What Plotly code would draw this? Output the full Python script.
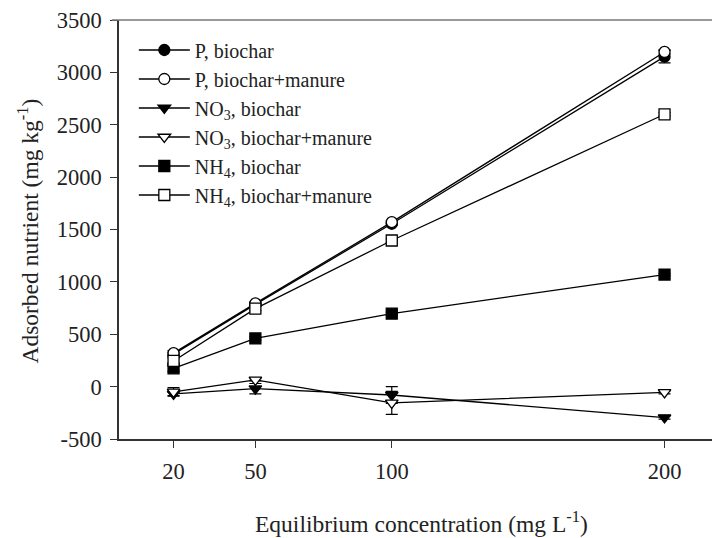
import plotly.graph_objects as go

conc = [20, 50, 100, 200]
y_ticks = [-500, 0, 500, 1000, 1500, 2000, 2500, 3000, 3500]

p_biochar = [310, 785, 1555, 3150]
p_biochar_err = [20, 15, 15, 60]
p_manure = [320, 795, 1570, 3195]
p_manure_err = [25, 15, 15, 20]

no3_biochar = [-70, -20, -80, -295]
no3_biochar_err = [15, 50, 80, 15]
no3_manure = [-50, 65, -155, -55]
no3_manure_err = [40, 10, 110, 15]

nh4_biochar = [175, 460, 697, 1070]
nh4_biochar_err = [30, 15, 15, 10]
nh4_manure = [245, 745, 1395, 2600]
nh4_manure_err = [30, 20, 15, 15]

series = [
    ("P, biochar", p_biochar, p_biochar_err, "circle", "black"),
    ("P, biochar+manure", p_manure, p_manure_err, "circle", "white"),
    ("NO<sub>3</sub>, biochar", no3_biochar, no3_biochar_err, "triangle-down", "black"),
    ("NO<sub>3</sub>, biochar+manure", no3_manure, no3_manure_err, "triangle-down", "white"),
    ("NH<sub>4</sub>, biochar", nh4_biochar, nh4_biochar_err, "square", "black"),
    ("NH<sub>4</sub>, biochar+manure", nh4_manure, nh4_manure_err, "square", "white"),
]

FONT = "Liberation Serif"
TXT = "#222"

fig = go.Figure()
for name, ys, errs, sym, fill in series:
    fig.add_trace(go.Scatter(
        x=conc, y=ys, name=name, mode="lines+markers",
        line=dict(color="black", width=1.3),
        marker=dict(symbol=sym, size=11, color=fill,
                    line=dict(color="black", width=1.3)),
        error_y=dict(type="data", array=errs, visible=True,
                     color="black", thickness=1.2, width=6),
    ))

fig.update_layout(
    width=712, height=538,
    margin=dict(l=119, r=0, t=20, b=99),
    paper_bgcolor="white", plot_bgcolor="white",
    font=dict(family=FONT, size=20, color=TXT),
    showlegend=True,
    legend=dict(x=0.025, y=0.975, xanchor="left", yanchor="top",
                bgcolor="rgba(0,0,0,0)", font=dict(family=FONT, size=20, color=TXT),
                itemwidth=51, tracegroupgap=0),
    xaxis=dict(
        range=[0, 217.4], tickvals=conc, ticktext=[str(c) for c in conc],
        automargin=False,
        showgrid=False, zeroline=False, showline=True, linecolor="#333", linewidth=1.5,
        mirror=False, ticks="outside", ticklen=7, tickwidth=1.2, tickcolor="#333",
        ticklabelstandoff=4,
        tickfont=dict(family=FONT, size=22.5, color=TXT),
    ),
    yaxis=dict(
        range=[-500, 3500], tickvals=y_ticks, ticktext=[str(v) for v in y_ticks],
        automargin=False,
        showgrid=False, zeroline=False, showline=True, linecolor="#333", linewidth=1.5,
        mirror=False, ticks="outside", ticklen=7, tickwidth=1.2, tickcolor="#333",
        ticklabelstandoff=4,
        tickfont=dict(family=FONT, size=22.5, color=TXT),
    ),
)

fig.add_annotation(text="Equilibrium concentration (mg L<sup>-1</sup>)",
                   xref="paper", yref="paper", x=0.51, y=0, xanchor="center",
                   yanchor="middle", yshift=-83, showarrow=False,
                   font=dict(family=FONT, size=23.5, color=TXT))
fig.add_annotation(text="Adsorbed nutrient (mg kg<sup>-1</sup>)",
                   xref="paper", yref="paper", x=0, y=0.495, xanchor="center",
                   yanchor="middle", xshift=-91, textangle=-90, showarrow=False,
                   font=dict(family=FONT, size=23.5, color=TXT))

fig.add_shape(type="line", xref="paper", yref="paper", x0=-0.012, x1=1, y0=1, y1=1,
              line=dict(color="#777", width=1.5))

fig.write_html("out.html",
               config={"displayModeBar": False},
               post_script="document.body.style.margin='0';"
                           "document.documentElement.style.overflow='hidden';")
